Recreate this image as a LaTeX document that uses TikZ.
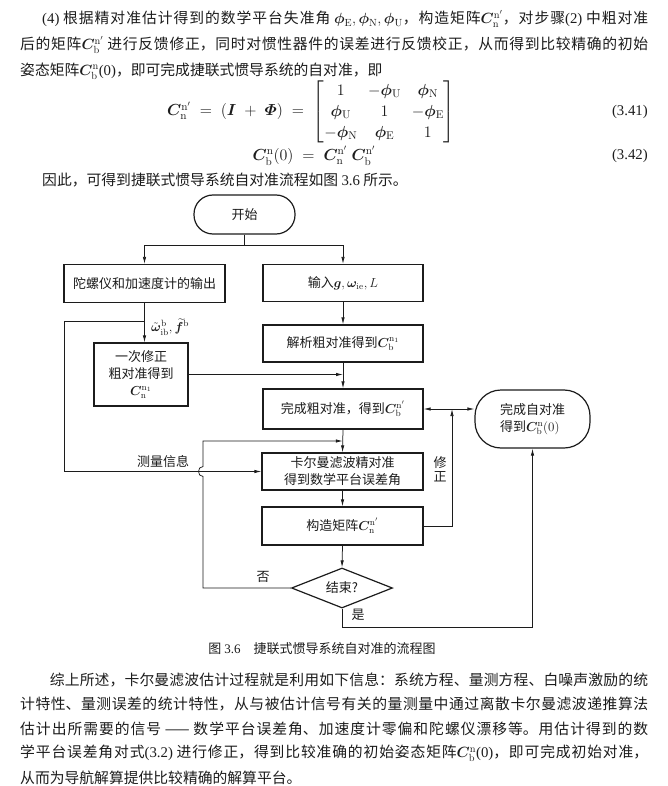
\documentclass[tikz,border=0pt]{standalone}
\usepackage{fix-cm}
\usepackage[no-math]{fontspec}
\setmainfont{Noto Sans CJK SC}
\newfontfamily\latf{Liberation Serif}
\usepackage{amsmath,bm}
\usetikzlibrary{shapes.geometric,arrows.meta,calc}
\XeTeXlinebreaklocale "zh"
\XeTeXlinebreakskip=0pt plus 4pt
\definecolor{ink}{HTML}{1C1C1C}
\newcommand\LatT[1]{{\latf #1}}
\newcommand\jline[2]{\parbox{#1}{\parfillskip=0pt\noindent #2\par}}
\newcommand\mC[2]{\bm C_{\mathrm{#1}}^{\mathrm{#2}}}
\tikzset{
  txt/.style={inner sep=0pt, text=ink, font=\fontsize{14.8}{20}\selectfont},
  eqn/.style={inner sep=0pt, text=ink, font=\fontsize{16}{17.5}\selectfont},
  fc/.style={inner sep=2pt, text=ink, font=\fontsize{13}{16}\selectfont},
  boxn/.style={fc, draw=ink, line width=1.2pt, minimum width=161pt, minimum height=38pt, align=center},
  term/.style={fc, draw=ink, line width=1.2pt, rounded corners=19pt, minimum width=101pt, minimum height=39pt},
  dec/.style={fc, draw=ink, line width=1.2pt, diamond, aspect=2.5, minimum width=101pt, minimum height=40pt, inner sep=0pt},
  lbl/.style={fc, inner sep=1pt},
  con/.style={draw=ink, line width=0.75pt},
  ar/.style={con, -{Latex[length=7pt,width=3.4pt]}},
  ar2/.style={con, {Latex[length=7pt,width=3.4pt]}-{Latex[length=7pt,width=3.4pt]}}
}
\begin{document}
\begin{tikzpicture}[x=1pt,y=-1pt]
\useasboundingbox (0,0) rectangle (668,786);
\fill[white] (0,0) rectangle (668,786);
% ---------- top paragraph
\node[txt, anchor=west] (l1) at (20,19) {\jline{628pt}{\hspace*{22pt}\LatT{(4)} 根据精对准估计得到的数学平台失准角 $\bm\phi_{\mathrm E},\bm\phi_{\mathrm N},\bm\phi_{\mathrm U}$，构造矩阵$\mC{n}{n'}$，对步骤\LatT{(2)} 中粗对准}};
\node[txt, anchor=west] (l2) at (20,45) {\jline{628pt}{后的矩阵$\mC{b}{n'}$ 进行反馈修正，同时对惯性器件的误差进行反馈校正，从而得到比较精确的初始}};
\node[txt, anchor=west] (l3) at (20,71) {姿态矩阵$\mC{b}{n}$\LatT{(0)}，即可完成捷联式惯导系统的自对准，即};
% ---------- equations
\node[eqn, anchor=west] (e1) at (167,112)
  {$\renewcommand\arraystretch{1.2}\setlength\arraycolsep{5.5pt}\mC{n}{n'}\;=\;(\bm I\;+\;\bm\varPhi)\;=\;\begin{bmatrix} 1 & -\bm\phi_{\mathrm U} & \bm\phi_{\mathrm N}\\ \bm\phi_{\mathrm U} & 1 & -\bm\phi_{\mathrm E}\\ -\bm\phi_{\mathrm N} & \bm\phi_{\mathrm E} & 1\end{bmatrix}$};
\node[txt, anchor=east] (n1) at (648,112) {\LatT{(3.41)}};
\node[eqn] (e2) at (314,156) {$\mC{b}{n}(0)\;=\;\mC{n}{n'}\;\mC{b}{n'}$};
\node[txt, anchor=east] (n2) at (648,156) {\LatT{(3.42)}};
\node[txt, anchor=west] (l4) at (42,180) {因此，可得到捷联式惯导系统自对准流程如图 \LatT{3.6} 所示。};
% ---------- flowchart nodes
\node[term] (start) at (244.5,214.5) {开始};
\node[boxn] (gyro) at (144.5,283.5) {陀螺仪和加速度计的输出};
\node[boxn, minimum width=160pt, minimum height=37pt] (inp) at (343,283) {输入$\bm g,\bm\omega_{\mathrm{ie}},L$};
\node[boxn, minimum width=160pt, minimum height=37pt] (jx) at (343,343.5) {解析粗对准得到$\mC{b}{n_1}$};
\node[boxn, minimum width=94pt, minimum height=63pt, font=\fontsize{13}{17}\selectfont] (yc) at (141,374.5) {一次修正\\粗对准得到\\$\mC{n}{n_1}$};
\node[boxn, minimum width=160pt, minimum height=40pt] (wc) at (343,409) {完成粗对准，得到$\mC{b}{n'}$};
\node[term, minimum width=115pt, minimum height=58pt, rounded corners=26pt, align=left, font=\fontsize{13}{17}\selectfont] (zd) at (532.5,419) {完成自对准\\得到$\mC{b}{n}(0)$};
\node[boxn, minimum height=37pt, font=\fontsize{13}{17}\selectfont] (kf) at (342.5,471.5) {卡尔曼滤波精对准\\得到数学平台误差角};
\node[boxn] (gz) at (342.5,526) {构造矩阵$\mC{n}{n'}$};
\node[dec] (js) at (342,588) {结束?};
% ---------- labels
\node[lbl, anchor=west] (wlab) at (150,327) {$\tilde{\bm\omega}_{\mathrm{ib}}^{\mathrm b},\widetilde{\bm f}^{\mathrm b}$};
\node[lbl] (clab) at (163,462) {测量信息};
\node[lbl, align=center, font=\fontsize{13}{14}\selectfont] (xlab) at (440,469) {修\\正};
\node[lbl] (nolab) at (263,577) {否};
\node[lbl] (yeslab) at (358,615) {是};
\node[txt, font=\fontsize{13}{16}\selectfont] (cap) at (322,649) {图 \LatT{3.6}\quad 捷联式惯导系统自对准的流程图};
% ---------- connectors
\coordinate (j0) at (244.5,245);
\draw[con] (start.south) -- (j0);
\draw[ar] (j0) -| (gyro.north);
\draw[ar] (j0) -| (inp.north);
\draw[ar] (inp.south) -- (jx.north);
\draw[ar] (jx.south) -- (wc.north);
\draw[ar] (wc.south) -- (kf.north);
\draw[ar] (kf.south) -- (gz.north);
\draw[ar] (gz.south) -- (js.north);
\draw[ar] (gyro.south) -- (gyro.south |- yc.north);
\coordinate (jl) at (144.5,321);
\coordinate (lc) at (64,321);
\coordinate (ld) at (64,471.5);
\draw[ar] (jl) -- (lc) -- (ld) -- (kf.west);
\draw[ar] (yc.east) -- (yc.east -| jx.south);
\draw[ar2] (wc.east) -- (wc.east -| zd.west);
\coordinate (xz) at (452,409);
\draw[ar] (gz.east) -| (xz);
\coordinate (na) at (203,588);
\coordinate (nb) at (203,476.5);
\coordinate (nc) at (203,466.5);
\coordinate (nd) at (203,441);
\coordinate (ne) at ($(wc.south)!0.5!(kf.north)$);
\draw[ar] (js.west) -- (na) -- (nb) .. controls (197,476.5) and (197,466.5) .. (nc) -- (nd) -- (ne);
\coordinate (b1) at (342,627);
\draw[ar] (js.south) -- (b1) -| (zd.south);
% ---------- bottom paragraph
\node[txt, anchor=west] (p1) at (20,680) {\jline{628pt}{\hspace*{2em}综上所述，卡尔曼滤波估计过程就是利用如下信息：系统方程、量测方程、白噪声激励的统}};
\node[txt, anchor=west] (p2) at (20,704.5) {\jline{628pt}{计特性、量测误差的统计特性，从与被估计信号有关的量测量中通过离散卡尔曼滤波递推算法}};
\node[txt, anchor=west] (p3) at (20,729) {\jline{628pt}{估计出所需要的信号 —— 数学平台误差角、加速度计零偏和陀螺仪漂移等。用估计得到的数}};
\node[txt, anchor=west] (p4) at (20,753.5) {\jline{628pt}{学平台误差角对式\LatT{(3.2)} 进行修正，得到比较准确的初始姿态矩阵$\mC{b}{n}$\LatT{(0)}，即可完成初始对准，}};
\node[txt, anchor=west] (p5) at (20,778) {从而为导航解算提供比较精确的解算平台。};
\end{tikzpicture}
\end{document}
